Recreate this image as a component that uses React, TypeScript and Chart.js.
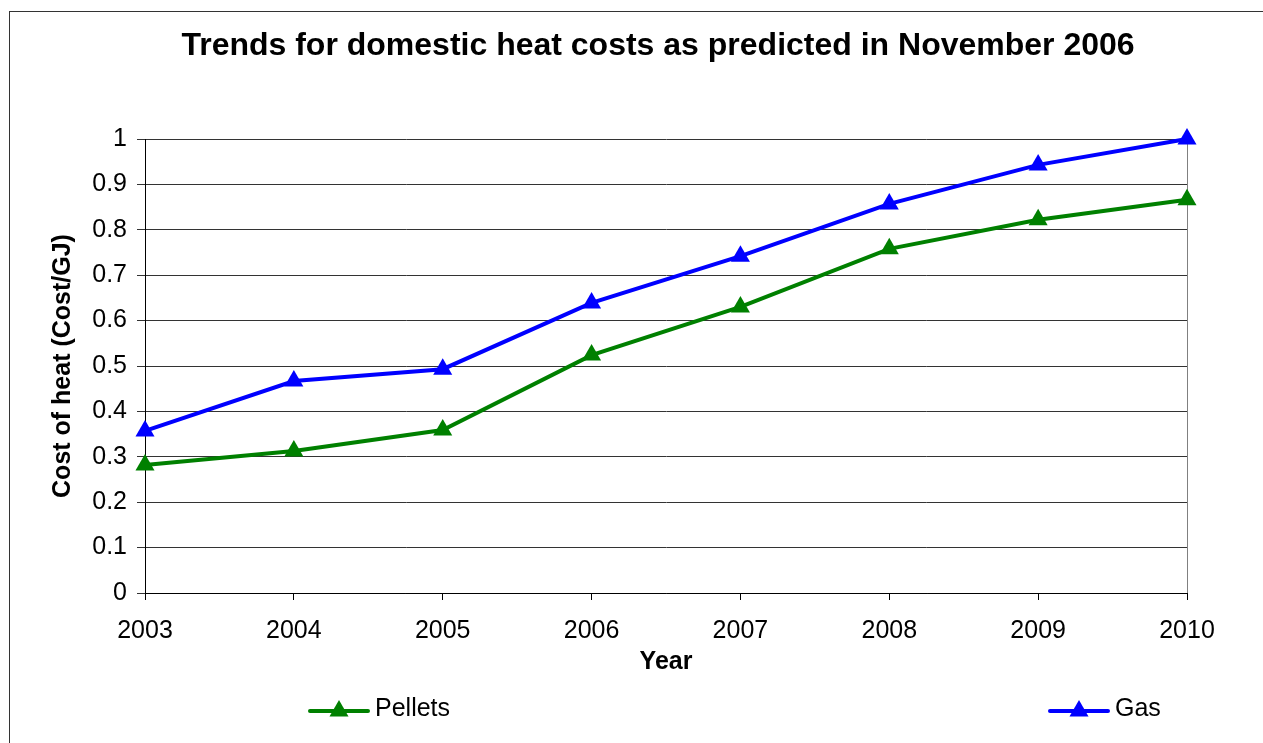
import React, { useEffect, useRef } from "react";
import { Chart, registerables } from "chart.js";

Chart.register(...registerables);

const years = ["2003", "2004", "2005", "2006", "2007", "2008", "2009", "2010"];
const pellets = [0.282, 0.313, 0.359, 0.524, 0.630, 0.758, 0.822, 0.866];
const gas = [0.357, 0.467, 0.493, 0.639, 0.742, 0.857, 0.943, 1.0];
const titleText = "Trends for domestic heat costs as predicted in November 2006";
const yTitle = "Cost of heat (Cost/GJ)";
const xTitle = "Year";

const FONT = "'Liberation Sans', Arial, sans-serif";

const decorPlugin = {
  id: "decor",
  afterDraw(chart: any) {
    const ctx = chart.ctx;
    const area = chart.chartArea;
    ctx.save();
    // outer frame
    ctx.strokeStyle = "#333333";
    ctx.lineWidth = 1;
    ctx.strokeRect(9.5, 11.5, 1300, 800);
    // title
    ctx.fillStyle = "#000";
    ctx.font = `bold 32px ${FONT}`;
    ctx.textAlign = "center";
    ctx.textBaseline = "middle";
    ctx.fillText(titleText, 658, 46);
    // legend
    const items = [
      { ds: chart.data.datasets[0], x: 310 },
      { ds: chart.data.datasets[1], x: 1050 },
    ];
    const ly = 711;
    items.forEach(({ ds, x }) => {
      ctx.strokeStyle = ds.borderColor;
      ctx.lineWidth = 4;
      ctx.lineCap = "round";
      ctx.beginPath();
      ctx.moveTo(x, ly);
      ctx.lineTo(x + 58, ly);
      ctx.stroke();
      ctx.fillStyle = ds.backgroundColor;
      const r = 11;
      const cx = x + 29;
      ctx.beginPath();
      ctx.moveTo(cx, ly - r);
      ctx.lineTo(cx + r * Math.sin(Math.PI / 3), ly + r / 2);
      ctx.lineTo(cx - r * Math.sin(Math.PI / 3), ly + r / 2);
      ctx.closePath();
      ctx.fill();
      ctx.fillStyle = "#000";
      ctx.font = `25px ${FONT}`;
      ctx.textAlign = "left";
      ctx.textBaseline = "middle";
      ctx.fillText(ds.label, x + 65, ly - 2);
    });
    ctx.restore();
  },
  beforeDatasetsDraw(chart: any) {
    const ctx = chart.ctx;
    const area = chart.chartArea;
    ctx.save();
    // right border of plot area
    ctx.strokeStyle = "#808080";
    ctx.lineWidth = 1;
    ctx.beginPath();
    ctx.moveTo(Math.round(area.right) + 0.5, area.top);
    ctx.lineTo(Math.round(area.right) + 0.5, area.bottom);
    ctx.stroke();
    ctx.restore();
  },
};

export default function App() {
  const ref = useRef<HTMLCanvasElement>(null);
  useEffect(() => {
    if (!ref.current) return;
    Chart.defaults.font.family = FONT;
    const chart = new Chart(ref.current, {
      type: "line",
      data: {
        labels: years,
        datasets: [
          {
            label: "Pellets",
            data: pellets,
            borderColor: "#008000",
            backgroundColor: "#008000",
            borderWidth: 4,
            pointStyle: "triangle",
            pointRadius: 11,
            pointBorderWidth: 0,
            pointBackgroundColor: "#008000",
            tension: 0,
            clip: false,
          },
          {
            label: "Gas",
            data: gas,
            borderColor: "#0000ff",
            backgroundColor: "#0000ff",
            borderWidth: 4,
            pointStyle: "triangle",
            pointRadius: 11,
            pointBorderWidth: 0,
            pointBackgroundColor: "#0000ff",
            tension: 0,
            clip: false,
          },
        ],
      },
      options: {
        responsive: true,
        maintainAspectRatio: false,
        animation: false,
        layout: { padding: { top: 139, right: 76, left: 0, bottom: 0 } },
        plugins: {
          legend: { display: false },
          title: { display: false },
          tooltip: { enabled: false },
        },
        scales: {
          x: {
            type: "category",
            offset: false,
            afterFit: (s: any) => {
              s.height = 150;
            },
            grid: {
              display: true,
              drawOnChartArea: false,
              drawTicks: true,
              tickLength: 7,
              color: "#000",
            },
            border: { display: true, color: "#000", width: 1 },
            ticks: {
              color: "#000",
              font: { size: 25 },
              padding: 16,
              maxRotation: 0,
              autoSkip: false,
            },
            title: {
              display: true,
              text: xTitle,
              color: "#000",
              font: { size: 25, weight: "bold" },
              padding: { top: 0, bottom: 66 },
            },
          },
          y: {
            min: 0,
            max: 1,
            afterFit: (s: any) => {
              s.width = 145;
            },
            grid: {
              color: "#333",
              lineWidth: 1,
              drawTicks: true,
              tickLength: 8,
            },
            border: { display: true, color: "#000", width: 1 },
            ticks: {
              stepSize: 0.1,
              color: "#000",
              font: { size: 25 },
              padding: 10,
              callback: (v: any) => String(Number(Number(v).toFixed(1))),
            },
            title: {
              display: true,
              text: yTitle,
              color: "#000",
              font: { size: 25, weight: "bold" },
              padding: { top: 48, bottom: 0 },
            },
          },
        },
      },
      plugins: [decorPlugin],
    });
    return () => chart.destroy();
  }, []);
  return (
    <div style={{ position: "fixed", left: 0, top: 0, width: 1263, height: 743, background: "#fff" }}>
      <canvas ref={ref} />
    </div>
  );
}
